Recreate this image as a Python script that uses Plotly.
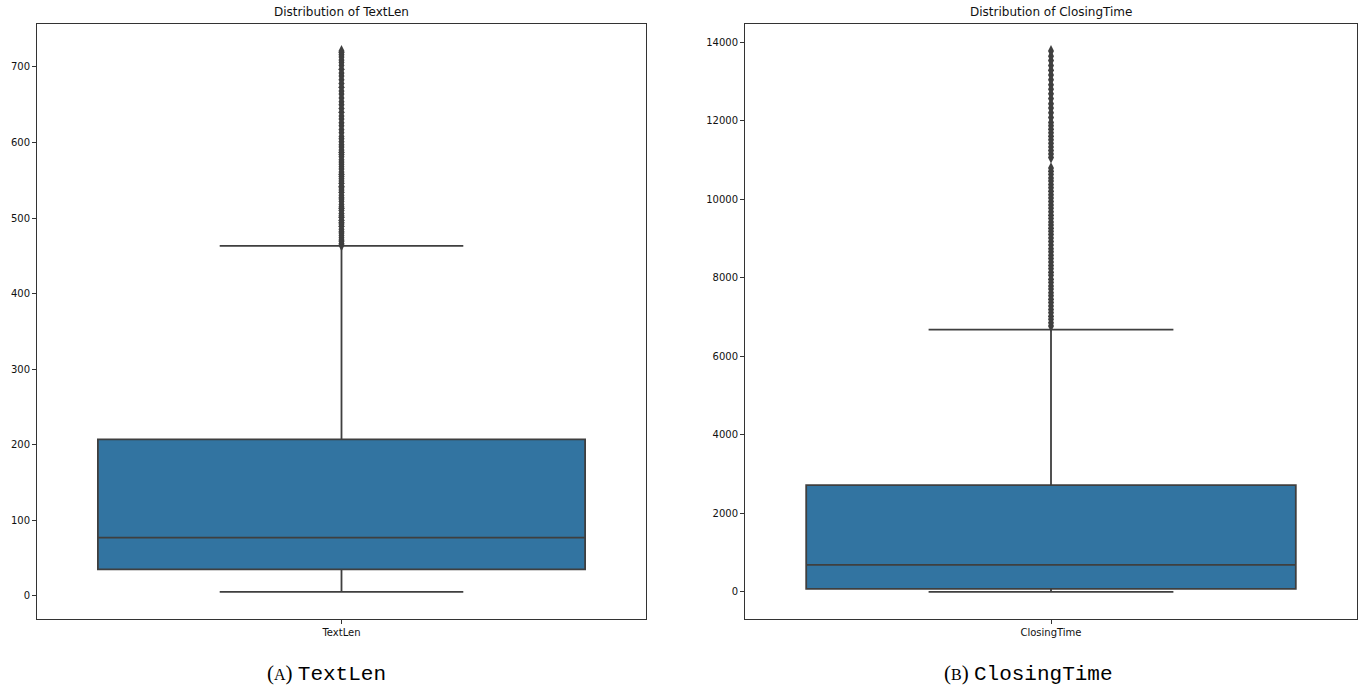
import plotly.graph_objects as go

# ---- summary statistics and flier values ----
categories = ["TextLen", "ClosingTime"]

textlen_stats = {"lower": 5, "q1": 35, "median": 77, "q3": 207, "upper": 463}
textlen_fliers = [
    464, 466, 469, 471, 474, 477, 480, 482, 485, 489, 492, 494, 497, 501, 503,
    506, 510, 513, 515, 518, 522, 525, 527, 530, 534, 537, 540, 542, 546, 549,
    552, 555, 558, 561, 565, 568, 571, 574, 577, 581, 584, 587, 590, 594, 597,
    601, 605, 608, 613, 617, 622, 626, 631, 635, 640, 645, 650, 654, 659, 664,
    668, 673, 678, 683, 688, 692, 697, 702, 706, 709, 713, 716, 719, 721,
]

closing_stats = {"lower": 0, "q1": 80, "median": 690, "q3": 2720, "upper": 6680}
closing_fliers = [
    6770, 6850, 6940, 7020, 7110, 7190, 7280, 7370, 7450, 7540, 7620, 7710,
    7790, 7880, 7960, 8060, 8140, 8230, 8310, 8400, 8490, 8570, 8660, 8740,
    8830, 8920, 9010, 9100, 9180, 9260, 9340, 9420, 9510, 9590, 9680, 9770,
    9850, 9940, 10030, 10110, 10200, 10290, 10370, 10460, 10540, 10630, 10710,
    10790, 11060, 11150, 11240, 11330, 11420, 11510, 11600, 11690, 11780,
    11870, 11950, 12080, 12200, 12320, 12430, 12560, 12680, 12800, 12910,
    13040, 13160, 13280, 13400, 13530, 13640, 13770,
]

titles = ["Distribution of TextLen", "Distribution of ClosingTime"]
captions = [
    ("A", "TextLen"),
    ("B", "ClosingTime"),
]

# ---- styling ----
W, H = 1359, 687
BOX_FILL = "#3274a1"
LINE_GRAY = "#3f3f3f"
FRAME = "#333333"
TEXT = "#111111"
FONT = "DejaVu Sans"

# panel frames in pixels: (left, right, top, bottom)
panels = [(37, 646, 24, 619), (745, 1357, 24, 619)]


def xdom(p):
    return [p[0] / W, p[1] / W]


def ydom(p):
    return [1 - p[3] / H, 1 - p[2] / H]


fig = go.Figure()

series = [
    (categories[0], textlen_stats, textlen_fliers, "x", "y"),
    (categories[1], closing_stats, closing_fliers, "x2", "y2"),
]

for cat, st, fl, xa, ya in series:
    fig.add_trace(go.Box(
        x=[cat],
        q1=[st["q1"]], median=[st["median"]], q3=[st["q3"]],
        lowerfence=[st["lower"]], upperfence=[st["upper"]],
        width=0.8, whiskerwidth=0.5,
        fillcolor=BOX_FILL,
        line=dict(color=LINE_GRAY, width=1.8),
        boxpoints=False,
        showlegend=False,
        xaxis=xa, yaxis=ya,
    ))
    fig.add_trace(go.Scatter(
        x=[cat] * len(fl), y=fl,
        mode="markers",
        marker=dict(symbol="diamond-tall", size=8.5, color=LINE_GRAY,
                    line=dict(width=0)),
        showlegend=False,
        xaxis=xa, yaxis=ya,
    ))


def yrange(lo, hi):
    pad = (hi - lo) * 0.05
    return [lo - pad, hi + pad]


axis_common = dict(
    showline=True, mirror=True, linecolor=FRAME, linewidth=1,
    ticks="outside", ticklen=4, tickwidth=1, tickcolor=FRAME,
    showgrid=False, zeroline=False, automargin=False,
    tickfont=dict(family=FONT, size=10, color=TEXT),
)

fig.update_layout(
    width=W, height=H, autosize=False,
    margin=dict(l=0, r=0, t=0, b=0),
    paper_bgcolor="white", plot_bgcolor="white",
    showlegend=False,
    xaxis=dict(domain=xdom(panels[0]), type="category", range=[-0.5, 0.5],
               anchor="y", **axis_common),
    yaxis=dict(domain=ydom(panels[0]), anchor="x",
               range=yrange(textlen_stats["lower"], max(textlen_fliers)),
               tickmode="linear", tick0=0, dtick=100, tickformat="d",
               **axis_common),
    xaxis2=dict(domain=xdom(panels[1]), type="category", range=[-0.5, 0.5],
                anchor="y2", **axis_common),
    yaxis2=dict(domain=ydom(panels[1]), anchor="x2",
                range=yrange(closing_stats["lower"], max(closing_fliers)),
                tickmode="linear", tick0=0, dtick=2000, tickformat="d",
                **axis_common),
)

annotations = []
for p, t in zip(panels, titles):
    annotations.append(dict(
        text=t, x=(p[0] + p[1]) / 2 / W, y=1 - 12 / H,
        xref="paper", yref="paper", xanchor="center", yanchor="middle",
        showarrow=False, font=dict(family=FONT, size=12, color=TEXT),
    ))

caption_x = [326, 1028]
for cx, (letter, name) in zip(caption_x, captions):
    txt = (
        "<span style='font-family:Liberation Serif'>(</span>"
        f"<span style='font-family:Liberation Serif;font-size:16px'>{letter}</span>"
        "<span style='font-family:Liberation Serif'>)</span> "
        f"<span style='font-family:Liberation Mono'>{name}</span>"
    )
    annotations.append(dict(
        text=txt, x=cx / W, y=1 - 673 / H,
        xref="paper", yref="paper", xanchor="center", yanchor="middle",
        showarrow=False, font=dict(family="Liberation Serif", size=21, color="#000000"),
    ))

fig.update_layout(annotations=annotations)

fig.write_html("out.html")
